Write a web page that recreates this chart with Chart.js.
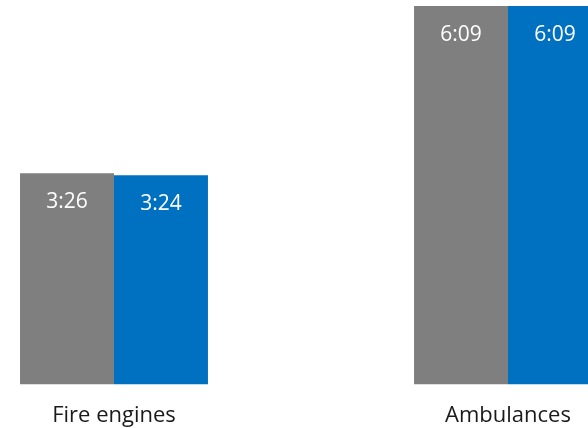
<!DOCTYPE html>
<html>
<head>
<meta charset="utf-8">
<script src="https://cdn.jsdelivr.net/npm/chart.js@4/dist/chart.umd.min.js"></script>
<style>
  html, body { margin: 0; padding: 0; background: #ffffff; overflow: hidden; }
  #wrap { position: relative; width: 588px; height: 428px; overflow: hidden; }
  #chart { position: absolute; left: -83px; top: 0; }
</style>
</head>
<body>
<div id="wrap"><canvas id="chart" width="788" height="439"></canvas></div>
<script>
// Response times, in seconds
const categories = ['Fire engines', 'Ambulances'];
const previousTimes = [206, 369];   // 3:26, 6:09
const currentTimes = [204, 369];    // 3:24, 6:09

const FONT = '"Open Sans", "Noto Sans", sans-serif';

function mmss(sec) {
  const m = Math.floor(sec / 60);
  const s = Math.round(sec % 60);
  return m + ':' + String(s).padStart(2, '0');
}

// White value labels just inside the top of each bar
const valueLabels = {
  id: 'valueLabels',
  afterDatasetsDraw(chart) {
    const ctx = chart.ctx;
    ctx.save();
    ctx.fillStyle = '#ffffff';
    ctx.font = '21px ' + FONT;
    ctx.textAlign = 'center';
    ctx.textBaseline = 'middle';
    chart.data.datasets.forEach((ds, i) => {
      chart.getDatasetMeta(i).data.forEach((bar, j) => {
        ctx.fillText(mmss(ds.data[j]), bar.x, bar.y + 29);
      });
    });
    ctx.restore();
  }
};

new Chart(document.getElementById('chart'), {
  type: 'bar',
  data: {
    labels: categories,
    datasets: [
      { label: 'Previous', data: previousTimes, backgroundColor: '#7f7f7f', borderWidth: 0 },
      { label: 'Current', data: currentTimes, backgroundColor: '#0070c0', borderWidth: 0 }
    ]
  },
  options: {
    responsive: false,
    animation: false,
    categoryPercentage: 0.477,
    barPercentage: 1,
    layout: { padding: { top: 6, left: 0, right: 0, bottom: 0 } },
    plugins: { legend: { display: false }, tooltip: { enabled: false } },
    scales: {
      x: {
        grid: { display: false },
        border: { display: false },
        ticks: { color: '#1a1a1a', font: { family: FONT, size: 22, lineHeight: 1.2 }, padding: 10 }
      },
      y: {
        display: false,
        min: 0,
        max: 369
      }
    }
  },
  plugins: [valueLabels]
});
</script>
</body>
</html>
